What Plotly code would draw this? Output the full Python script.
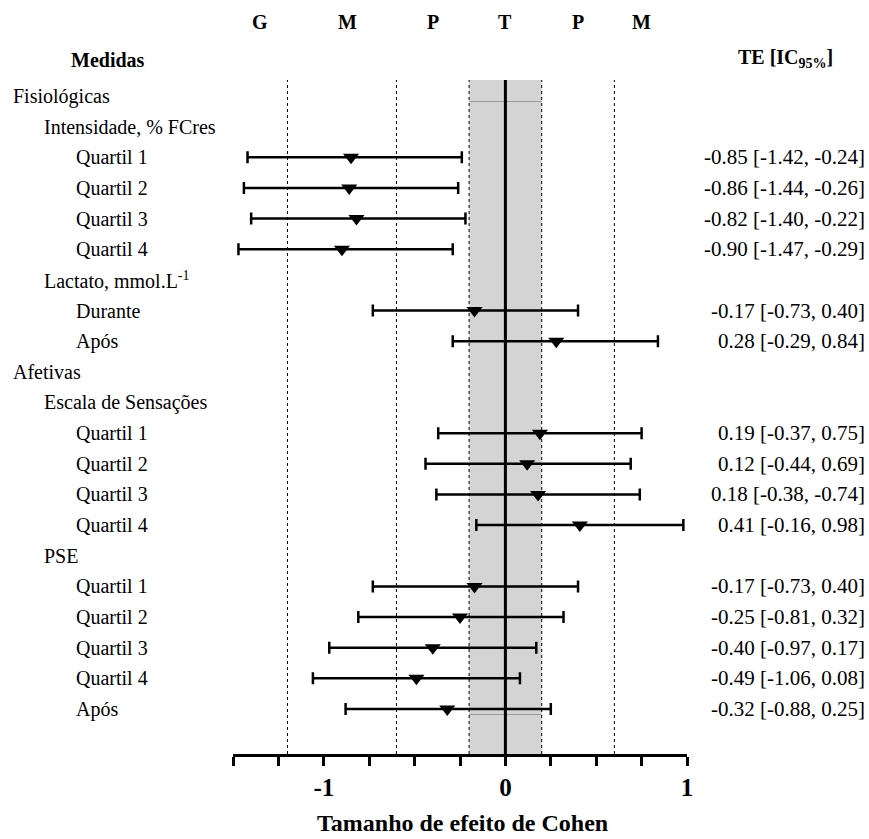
import plotly.graph_objects as go

# ---- data ----
row_labels = ["Fisiológicas", "Intensidade, % FCres", "Quartil 1", "Quartil 2", "Quartil 3", "Quartil 4",
              "Lactato, mmol.L<sup>-1</sup>", "Durante", "Após",
              "Afetivas", "Escala de Sensações", "Quartil 1", "Quartil 2", "Quartil 3", "Quartil 4",
              "PSE", "Quartil 1", "Quartil 2", "Quartil 3", "Quartil 4", "Após"]
row_levels = [0, 1, 2, 2, 2, 2, 1, 2, 2, 0, 1, 2, 2, 2, 2, 1, 2, 2, 2, 2, 2]
estimate = [None, None, -0.85, -0.86, -0.82, -0.90, None, -0.17, 0.28,
            None, None, 0.19, 0.12, 0.18, 0.41, None, -0.17, -0.25, -0.40, -0.49, -0.32]
lower = [None, None, -1.42, -1.44, -1.40, -1.47, None, -0.73, -0.29,
         None, None, -0.37, -0.44, -0.38, -0.16, None, -0.73, -0.81, -0.97, -1.06, -0.88]
upper = [None, None, -0.24, -0.26, -0.22, -0.29, None, 0.40, 0.84,
         None, None, 0.75, 0.69, 0.74, 0.98, None, 0.40, 0.32, 0.17, 0.08, 0.25]
ci_text = [None, None, "-0.85 [-1.42, -0.24]", "-0.86 [-1.44, -0.26]", "-0.82 [-1.40, -0.22]",
           "-0.90 [-1.47, -0.29]", None, "-0.17 [-0.73, 0.40]", "0.28 [-0.29, 0.84]",
           None, None, "0.19 [-0.37, 0.75]", "0.12 [-0.44, 0.69]", "0.18 [-0.38, -0.74]",
           "0.41 [-0.16, 0.98]", None, "-0.17 [-0.73, 0.40]", "-0.25 [-0.81, 0.32]",
           "-0.40 [-0.97, 0.17]", "-0.49 [-1.06, 0.08]", "-0.32 [-0.88, 0.25]"]
zone_labels = ["G", "M", "P", "T", "P", "M"]
zone_pos = [-1.35, -0.87, -0.4, 0.0, 0.4, 0.75]
thresholds = [-1.2, -0.6, 0.6]
trivial = [-0.2, 0.2]
tick_vals = [-1.5, -1.25, -1.0, -0.75, -0.5, -0.25, 0.0, 0.25, 0.5, 0.75, 1.0]
tick_text = ["", "", "-1", "", "", "", "0", "", "", "", "1"]

# ---- layout geometry ----
W, H = 869, 839
L, R = 233, 687
T, B = 80, 754
font_fam = "Liberation Serif"

def px2paper(px):
    return (px - L) / (R - L)

def py2paper(py):
    return (B - py) / (B - T)

idx = [i for i, e in enumerate(estimate) if e is not None]
xs = [estimate[i] for i in idx]
ys = [i for i in idx]
plus = [upper[i] - estimate[i] for i in idx]
minus = [estimate[i] - lower[i] for i in idx]

fig = go.Figure()
fig.add_trace(go.Scatter(
    x=xs, y=ys, mode="markers",
    marker=dict(symbol="triangle-down", size=14, color="black"),
    error_x=dict(type="data", symmetric=False, array=plus, arrayminus=minus,
                 color="black", thickness=2.5, width=6),
    showlegend=False, hoverinfo="skip",
))

shapes = []
shapes.append(dict(type="rect", xref="x", yref="paper", x0=trivial[0], x1=trivial[1], y0=0, y1=1,
                   fillcolor="#d4d4d4", line=dict(width=0), layer="below"))
for xv in trivial + thresholds:
    shapes.append(dict(type="line", xref="x", yref="paper", x0=xv, x1=xv, y0=0, y1=1,
                       line=dict(color="black", width=1, dash="dot"), layer="below"))
for yv in [0, 20]:
    shapes.append(dict(type="line", xref="x", yref="y", x0=trivial[0], x1=trivial[1],
                       y0=yv + 0.18, y1=yv + 0.18, line=dict(color="#9a9a9a", width=1), layer="below"))
shapes.append(dict(type="line", xref="x", yref="paper", x0=0, x1=0, y0=0, y1=1,
                   line=dict(color="black", width=3)))

annotations = []
indent_px = [11, 42, 74]
for i, (lab, lev) in enumerate(zip(row_labels, row_levels)):
    annotations.append(dict(x=px2paper(indent_px[lev]), xref="paper", y=i, yref="y",
                            text=lab, showarrow=False, xanchor="left", yanchor="middle",
                            font=dict(family=font_fam, size=20, color="black")))
    if ci_text[i] is not None:
        annotations.append(dict(x=px2paper(867), xref="paper", y=i, yref="y",
                                text=ci_text[i], showarrow=False, xanchor="right", yanchor="middle",
                                font=dict(family=font_fam, size=21, color="black")))
for lab, pos in zip(zone_labels, zone_pos):
    annotations.append(dict(x=pos, xref="x", y=py2paper(22), yref="paper", text=lab,
                            showarrow=False, xanchor="center", yanchor="middle",
                            font=dict(family=font_fam, size=20, color="black", weight="bold")))
annotations.append(dict(x=px2paper(108), xref="paper", y=py2paper(60), yref="paper", text="Medidas",
                        showarrow=False, xanchor="center", yanchor="middle",
                        font=dict(family=font_fam, size=20, color="black", weight="bold")))
annotations.append(dict(x=px2paper(785), xref="paper", y=py2paper(58), yref="paper",
                        text="TE [IC<sub>95%</sub>]",
                        showarrow=False, xanchor="center", yanchor="middle",
                        font=dict(family=font_fam, size=20, color="black", weight="bold")))
annotations.append(dict(x=px2paper(462), xref="paper", y=py2paper(823), yref="paper",
                        text="Tamanho de efeito de Cohen",
                        showarrow=False, xanchor="center", yanchor="middle",
                        font=dict(family=font_fam, size=24, color="black", weight="bold")))

row_px = (709 - 96) / 20.0
y_top = 0 - (96 - T) / row_px
y_bot = 20 + (B - 709) / row_px

fig.update_layout(
    width=W, height=H,
    margin=dict(l=L, r=W - R, t=T, b=H - B, pad=0),
    paper_bgcolor="white", plot_bgcolor="white",
    shapes=shapes, annotations=annotations,
    xaxis=dict(range=[-1.5, 1.0], showgrid=False, zeroline=False, showline=True,
               linecolor="black", linewidth=3, ticks="outside", ticklen=9, tickwidth=2.5,
               tickcolor="black", tickvals=tick_vals, ticktext=tick_text,
               tickfont=dict(family=font_fam, size=25, color="black", weight="bold")),
    yaxis=dict(range=[y_bot, y_top], visible=False, showgrid=False, zeroline=False),
    font=dict(family=font_fam),
)

fig.write_html("out.html", config={"displayModeBar": False},
               post_script="document.body.style.margin='0';")
